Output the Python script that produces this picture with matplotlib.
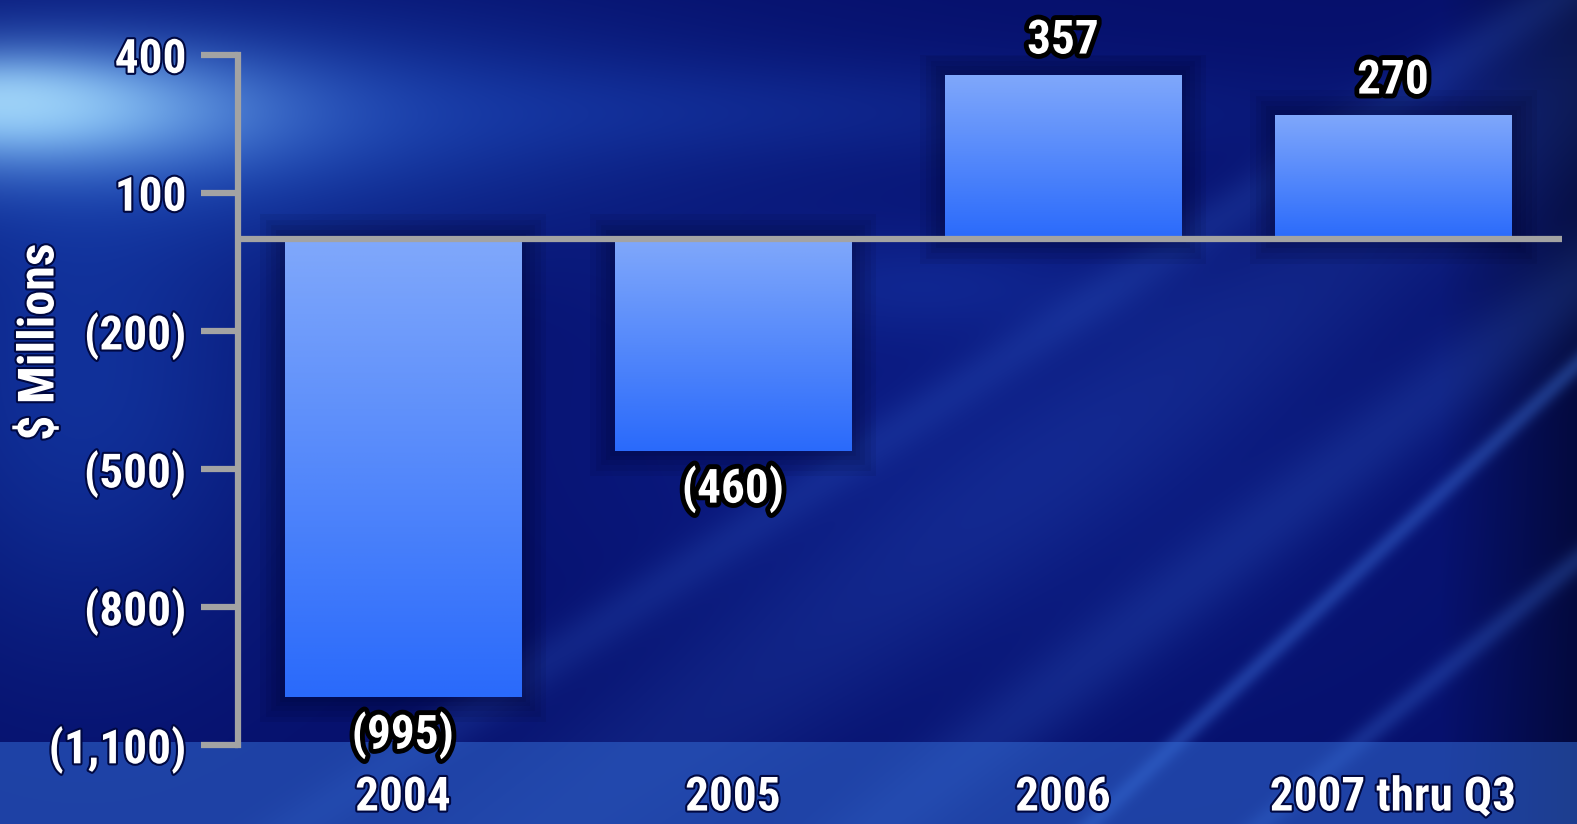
import numpy as np
import matplotlib
matplotlib.use("Agg")
import matplotlib.pyplot as plt
import matplotlib.patheffects as pe
from matplotlib import font_manager

# pick a narrow bold face if one is installed
installed = {f.name for f in font_manager.fontManager.ttflist}
face = 'DejaVu Sans'
for cand in ['Liberation Sans Narrow', 'Roboto Condensed', 'Open Sans Condensed',
             'Noto Sans Condensed', 'Lato', 'Open Sans']:
    if cand in installed:
        face = cand
        break
plt.rcParams['font.family'] = [face, 'DejaVu Sans']

years = ["2004", "2005", "2006", "2007 thru Q3"]
values = [-995, -460, 357, 270]
value_labels = ["(995)", "(460)", "357", "270"]
yticks = [400, 100, -200, -500, -800, -1100]
ytick_labels = ["400", "100", "(200)", "(500)", "(800)", "(1,100)"]

W, H = 1577, 824
fig = plt.figure(figsize=(W / 100, H / 100), dpi=100)

# background: dark navy with a glow at the upper left and a few light streaks
yy, xx = np.mgrid[0:H, 0:W].astype(float)
bg = np.zeros((H, W, 3))
bg[:] = np.array([6, 16, 108]) / 255

def add_glow(cx, cy, sx, sy, color, strength):
    g = np.exp(-((xx - cx) / sx) ** 2 - ((yy - cy) / sy) ** 2) * strength
    col = np.array(color) / 255
    bg[:] = bg * (1 - g[..., None]) + col * g[..., None]

add_glow(950, 430, 450, 260, (14, 34, 145), 0.6)
add_glow(80, 380, 200, 260, (25, 75, 190), 0.55)
add_glow(150, 125, 480, 120, (35, 95, 215), 0.6)
add_glow(600, 110, 650, 50, (30, 75, 195), 0.3)
add_glow(30, 110, 230, 60, (130, 190, 245), 0.95)
add_glow(0, 100, 120, 35, (170, 220, 250), 0.7)
add_glow(920, 285, 200, 50, (30, 70, 190), 0.3)

# darker edge on the right
dark = np.clip((xx - 1440) / 140, 0, 1) * 0.45
bg *= (1 - dark[..., None])

# diagonal streaks toward the bottom right
for x0, y0, x1, y1, w, s in [(1090, 824, 1560, 380, 10, 0.35),
                              (880, 824, 1400, 420, 40, 0.18),
                              (560, 824, 1200, 360, 90, 0.14),
                              (300, 824, 700, 560, 25, 0.15),
                              (1260, 824, 1577, 560, 12, 0.25)]:
    d = np.abs((y1 - y0) * xx - (x1 - x0) * yy + x1 * y0 - y1 * x0) / np.hypot(y1 - y0, x1 - x0)
    g = np.exp(-(d / w) ** 2) * s
    bg[:] = bg * (1 - g[..., None]) + np.array([70, 130, 240]) / 255 * g[..., None]

# lighter strip along the bottom
band = yy >= 742
bg[band] = bg[band] * 0.45 + np.array([50, 105, 210]) / 255 * 0.55
bg = np.clip(bg, 0, 1)

bg_ax = fig.add_axes([0, 0, 1, 1], zorder=-10)
bg_ax.imshow(bg, aspect='auto', extent=[0, W, H, 0])
bg_ax.axis('off')

ax = fig.add_axes([238 / W, 1 - 745 / H, (1562 - 238) / W, (745 - 55.3) / H])
ax.patch.set_alpha(0)
x = np.arange(len(years))
ax.set_xlim(-0.5, 3.512)
ax.set_ylim(-1100, 400)

grey = '#a3a3a3'
bars = ax.bar(x, values, width=0.718, facecolor='none', edgecolor='#000018', linewidth=1, zorder=2)
grad = np.linspace(0, 1, 256)[:, None]
top_c = np.array([0x80, 0xa8, 0xfb]) / 255
bot_c = np.array([0x2a, 0x6a, 0xfb]) / 255
grad_img = top_c * (1 - grad[..., None]) + bot_c * grad[..., None]
for b in bars:
    # soft dark halo behind each bar
    b.set_path_effects([pe.Stroke(linewidth=w, foreground='#000018', alpha=0.07)
                        for w in (36, 28, 20, 13, 7)])
    x0, y0 = b.get_x(), b.get_y()
    x1, y1 = x0 + b.get_width(), y0 + b.get_height()
    im = ax.imshow(grad_img, extent=[x0, x1, min(y0, y1), max(y0, y1)],
                   aspect='auto', zorder=3, origin='upper')
    im.set_clip_path(b)

ax.axhline(0, color=grey, linewidth=4.5, zorder=4)

for s in ['top', 'right', 'bottom']:
    ax.spines[s].set_visible(False)
ax.spines['left'].set_color(grey)
ax.spines['left'].set_linewidth(4.5)
ax.spines['left'].set_zorder(4)

fs = 34
tick_fx = [pe.withStroke(linewidth=3, foreground='#000840')]
ax.set_yticks(yticks)
ax.set_yticklabels(ytick_labels, fontsize=fs, fontweight='bold', color='white')
ax.tick_params(axis='y', length=27, width=4.5, color=grey, pad=10)
ax.set_xticks(x)
ax.set_xticklabels(years, fontsize=fs, fontweight='bold', color='white')
ax.tick_params(axis='x', length=0, pad=22)
for lab in ax.get_yticklabels() + ax.get_xticklabels():
    lab.set_path_effects(tick_fx)

fig.text(40 / W, 1 - 342 / H, "$ Millions", rotation=90, ha='center', va='center',
         fontsize=36, fontweight='bold', color='white', path_effects=tick_fx)

label_fx = [pe.withStroke(linewidth=7, foreground='black')]
for xi, v, txt in zip(x, values, value_labels):
    off = 9 if v > 0 else -11
    ax.annotate(txt, (xi, v), xytext=(0, off), textcoords='offset points',
                ha='center', va='bottom' if v > 0 else 'top',
                fontsize=fs, fontweight='bold', color='white',
                path_effects=label_fx, zorder=6)

fig.savefig("out.png", dpi=100)
